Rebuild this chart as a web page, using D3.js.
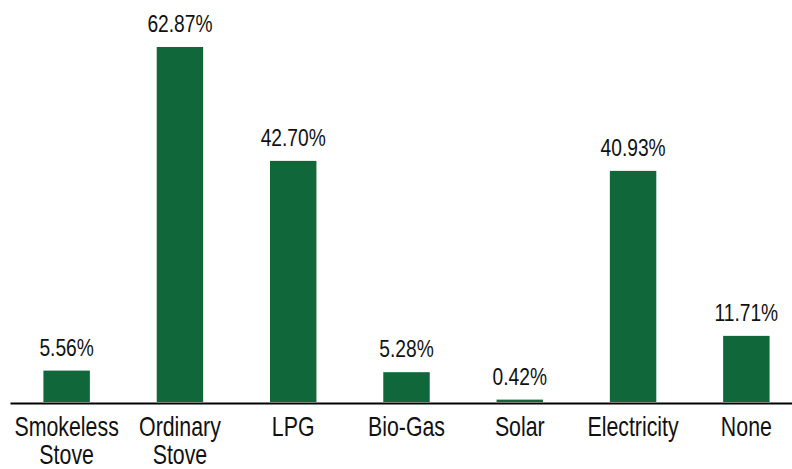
<!DOCTYPE html>
<html>
<head>
<meta charset="utf-8">
<script src="https://cdn.jsdelivr.net/npm/d3@7"></script>
<style>
  body { margin: 0; background: #fff; }
  text { font-family: "Liberation Sans", Arial, sans-serif; fill: #111; }
</style>
</head>
<body>
<svg class="chart"></svg>
<script>
// data
var categories = ["Smokeless Stove", "Ordinary Stove", "LPG", "Bio-Gas", "Solar", "Electricity", "None"];
var shares = [5.56, 62.87, 42.70, 5.28, 0.42, 40.93, 11.71];
var valueLabels = ["5.56%", "62.87%", "42.70%", "5.28%", "0.42%", "40.93%", "11.71%"];

var width = 792, height = 469;
var base = 402;

var data = categories.map(function (c, i) {
    return { cat: c, val: shares[i], label: valueLabels[i] };
});

var svg = d3.select(".chart")
    .attr("width", width)
    .attr("height", height);

var x = d3.scaleBand()
    .domain(categories)
    .range([10, 803])
    .paddingInner(0.59)
    .paddingOuter(0.295);

var y = d3.scaleLinear()
    .domain([0, 70])
    .range([base, base - 70 * 5.647]);

// bars
svg.selectAll("rect.bar").data(data)
    .enter().append("rect")
    .attr("class", "bar")
    .attr("x", d => x(d.cat))
    .attr("width", x.bandwidth())
    .attr("y", d => y(d.val))
    .attr("height", d => base - y(d.val))
    .attr("fill", "#10673a");

// value labels (squeezed horizontally to look like a condensed face)
svg.selectAll("g.val").data(data)
    .enter().append("g")
    .attr("class", "val")
    .attr("transform", d => "translate(" + (x(d.cat) + x.bandwidth() / 2) + "," + (y(d.val) - 15) + ")")
    .append("text")
    .attr("transform", "scale(0.8,1)")
    .attr("text-anchor", "middle")
    .style("font-size", "24px")
    .text(d => d.label);

// x axis
var axis = svg.append("g")
    .attr("transform", "translate(0," + (base + 1) + ")")
    .call(d3.axisBottom(x).tickSize(0).tickPadding(0));

axis.select(".domain")
    .attr("stroke", "#000")
    .attr("stroke-width", 2);

axis.selectAll(".tick text").remove();
axis.selectAll(".tick").each(function (d) {
    var words = d.split(" ");
    var t = d3.select(this).append("text")
        .attr("transform", "scale(0.79,1)")
        .attr("text-anchor", "middle")
        .style("font-size", "27px")
        .attr("fill", "#111");
    words.forEach(function (w, i) {
        t.append("tspan")
            .attr("x", 0)
            .attr("y", 33 + i * 28)
            .text(w);
    });
});
</script>
</body>
</html>
